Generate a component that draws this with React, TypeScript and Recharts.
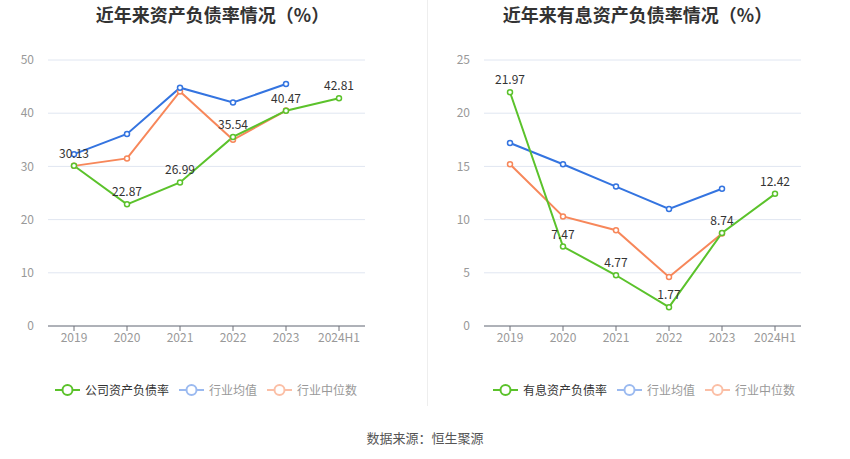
import React from "react";
import { LineChart, Line, XAxis, YAxis, CartesianGrid, LabelList } from "recharts";

const categories = ["2019", "2020", "2021", "2022", "2023", "2024H1"];

const leftCompany = [30.13, 22.87, 26.99, 35.54, 40.47, 42.81];
const leftAvg = [32.3, 36.1, 44.8, 42.0, 45.5, null];
const leftMedian = [30.1, 31.5, 44.1, 35.0, 40.5, null];
const leftTicks = [0, 10, 20, 30, 40, 50];

const rightCompany = [21.97, 7.47, 4.77, 1.77, 8.74, 12.42];
const rightAvg = [17.2, 15.2, 13.1, 11.0, 12.9, null];
const rightMedian = [15.2, 10.3, 9.0, 4.6, 8.7, null];
const rightTicks = [0, 5, 10, 15, 20, 25];

const leftTitle = "近年来资产负债率情况（%）";
const rightTitle = "近年来有息资产负债率情况（%）";
const leftLegend = ["公司资产负债率", "行业均值", "行业中位数"];
const rightLegend = ["有息资产负债率", "行业均值", "行业中位数"];
const source = "数据来源：恒生聚源";

const GREEN = "#5bc22b";
const BLUE = "#3474e0";
const ORANGE = "#f7875a";
const FONT = "'Noto Sans CJK SC', 'Noto Sans', sans-serif";

function build(a: (number | null)[], b: (number | null)[], c: (number | null)[]) {
  return categories.map((cat, i) => ({ cat, company: a[i], avg: b[i], median: c[i] }));
}

const dot = (color: string) => ({ r: 2.5, stroke: color, strokeWidth: 1.5, fill: "#fff" });

function Chart({ data, ticks, max }: { data: any[]; ticks: number[]; max: number }) {
  return (
    <LineChart width={425} height={360} data={data} margin={{ top: 60, right: 60, bottom: 4, left: 0 }}>
      <CartesianGrid vertical={false} stroke="#e0e6f1" />
      <XAxis
        dataKey="cat"
        height={30}
        stroke="#6e7079"
        padding={{ left: 26, right: 26 }}
        tick={{ fill: "#999", fontSize: 12, fontFamily: FONT }}
        tickSize={5}
        tickLine={{ stroke: "#6e7079" }}
        interval={0}
      />
      <YAxis
        width={48}
        domain={[0, max]}
        ticks={ticks}
        axisLine={false}
        tickLine={false}
        tick={{ fill: "#999", fontSize: 12, fontFamily: FONT }}
        tickMargin={8}
      />
      <Line type="linear" dataKey="median" stroke={ORANGE} strokeWidth={2} dot={dot(ORANGE)} isAnimationActive={false} />
      <Line type="linear" dataKey="avg" stroke={BLUE} strokeWidth={2} dot={dot(BLUE)} isAnimationActive={false} />
      <Line type="linear" dataKey="company" stroke={GREEN} strokeWidth={2} dot={dot(GREEN)} isAnimationActive={false}>
        <LabelList dataKey="company" position="top" offset={8} fill="#333" fontSize={12} fontFamily={FONT} />
      </Line>
    </LineChart>
  );
}

function LegendIcon({ color }: { color: string }) {
  return (
    <svg width={25} height={14} style={{ display: "block" }}>
      <line x1={0} y1={7} x2={25} y2={7} stroke={color} strokeWidth={2} />
      <circle cx={12.5} cy={7} r={5} fill="#fff" stroke={color} strokeWidth={2} />
    </svg>
  );
}

function Legend({ labels, left }: { labels: string[]; left: number }) {
  const colors = [GREEN, "#9bbaf0", "#fbbfa6"];
  const textColors = ["#333", "#999", "#999"];
  return (
    <div style={{ position: "absolute", left, top: 382, display: "flex", alignItems: "center", fontFamily: FONT, fontSize: 12 }}>
      {labels.map((l, i) => (
        <div key={l} style={{ display: "flex", alignItems: "center", marginRight: 10 }}>
          <LegendIcon color={colors[i]} />
          <span style={{ marginLeft: 5, color: textColors[i], lineHeight: "16px" }}>{l}</span>
        </div>
      ))}
    </div>
  );
}

export default function App() {
  const leftData = build(leftCompany, leftAvg, leftMedian);
  const rightData = build(rightCompany, rightAvg, rightMedian);
  const titleStyle: React.CSSProperties = {
    position: "absolute",
    top: 1,
    width: 425,
    textAlign: "center",
    fontFamily: FONT,
    fontWeight: "bold",
    fontSize: 18,
    color: "#333",
    lineHeight: "26px",
  };
  return (
    <div style={{ position: "absolute", left: 0, top: 0, width: 850, height: 459, background: "#fff", overflow: "hidden" }}>
      <div style={{ ...titleStyle, left: 0 }}>{leftTitle}</div>
      <div style={{ ...titleStyle, left: 425 }}>{rightTitle}</div>
      <div style={{ position: "absolute", left: 0, top: 0 }}>
        <Chart data={leftData} ticks={leftTicks} max={50} />
      </div>
      <div style={{ position: "absolute", left: 436, top: 0 }}>
        <Chart data={rightData} ticks={rightTicks} max={25} />
      </div>
      <div style={{ position: "absolute", left: 427, top: 0, width: 1, height: 406, background: "#eee" }} />
      <Legend labels={leftLegend} left={55} />
      <Legend labels={rightLegend} left={493} />
      <div style={{ position: "absolute", left: 0, top: 428, width: 850, textAlign: "center", fontFamily: FONT, fontSize: 13, color: "#555" }}>
        {source}
      </div>
    </div>
  );
}
